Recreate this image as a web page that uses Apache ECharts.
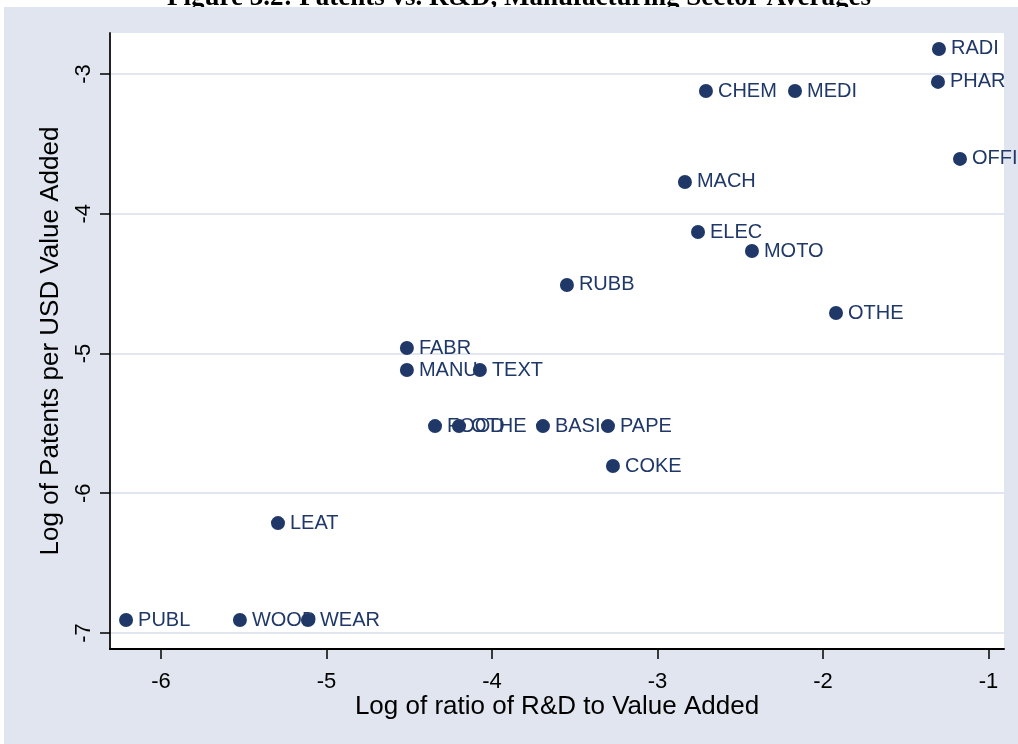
<!DOCTYPE html>
<html>
<head>
<meta charset="utf-8">
<script src="https://cdn.jsdelivr.net/npm/echarts@6/dist/echarts.min.js"></script>
<style>html,body{margin:0;padding:0;background:#fff}#c{width:1018px;height:744px}</style>
</head>
<body>
<div id="c"></div>
<script>
const titleText = 'Figure 3.2: Patents vs. R&D, Manufacturing Sector Averages';
const xName = 'Log of ratio of R&D to Value Added';
const yName = 'Log of Patents per USD Value Added';
const sectors = ['RADI','PHAR','CHEM','MEDI','OFFI','MACH','ELEC','MOTO','RUBB','OTHE','FABR','MANU','TEXT','FOOD','OTHE','BASI','PAPE','COKE','LEAT','PUBL','WOOD','WEAR'];
const rdRatio = [-1.299,-1.305,-2.707,-2.169,-1.172,-2.834,-2.755,-2.429,-3.547,-1.921,-4.514,-4.514,-4.073,-4.344,-4.199,-3.692,-3.299,-3.269,-5.293,-6.211,-5.523,-5.112];
const patents = [-2.821,-3.057,-3.122,-3.122,-3.608,-3.773,-4.131,-4.267,-4.510,-4.711,-4.961,-5.119,-5.119,-5.520,-5.520,-5.520,-5.520,-5.806,-6.214,-6.908,-6.908,-6.908];
const xTicks = [-6,-5,-4,-3,-2,-1];
const yTicks = [-7,-6,-5,-4,-3];

const navy = '#1f3868';
const data = sectors.map((s,i)=>({name:s, value:[rdRatio[i], patents[i]]}));
const chart = echarts.init(document.getElementById('c'));
chart.setOption({
  backgroundColor:'#fff',
  animation:false,
  graphic:[
    {type:'text', z:-12, x:519, y:12, style:{text:titleText, fill:'#000', font:'bold 27px "Liberation Serif"', align:'center', verticalAlign:'bottom'}},
    {type:'rect', z:-11, shape:{x:4,y:7,width:1014,height:737}, style:{fill:'#e0e5ef'}}
  ],
  grid:{left:110, right:14, top:33, bottom:95, show:true, backgroundColor:'#fff', borderWidth:0},
  xAxis:{
    type:'value', min:-6.308, max:-0.906,
    name:xName, nameLocation:'middle', nameGap:45, nameMoveOverlap:false,
    nameTextStyle:{fontFamily:'Liberation Sans', fontSize:26, color:'#000'},
    axisLine:{show:true, onZero:false, lineStyle:{color:'#000', width:2}},
    axisTick:{show:true, length:10, customValues:xTicks, lineStyle:{color:'#000', width:1.5}},
    axisLabel:{customValues:xTicks, margin:22, fontFamily:'Liberation Sans', fontSize:22, color:'#000'},
    splitLine:{show:false}
  },
  yAxis:{
    type:'value', min:-7.115, max:-2.707,
    name:yName, nameLocation:'middle', nameGap:46, nameMoveOverlap:false,
    nameTextStyle:{fontFamily:'Liberation Sans', fontSize:26, color:'#000'},
    axisLine:{show:true, onZero:false, lineStyle:{color:'#222', width:2}},
    axisTick:{show:true, length:10, customValues:yTicks, lineStyle:{color:'#000', width:1.5}},
    axisLabel:{customValues:yTicks, rotate:90, margin:15, fontFamily:'Liberation Sans', fontSize:22, color:'#000'},
    splitLine:{show:true, lineStyle:{color:'#e1e6f0', width:2}}
  },
  series:[{
    type:'scatter', data:data, symbol:'circle', symbolSize:14,
    itemStyle:{color:navy, opacity:1},
    label:{show:true, position:'right', distance:5, formatter:'{b}', fontFamily:'Liberation Sans', fontSize:20, color:navy},
    labelLayout:{hideOverlap:false}
  }]
});
</script>
</body>
</html>
